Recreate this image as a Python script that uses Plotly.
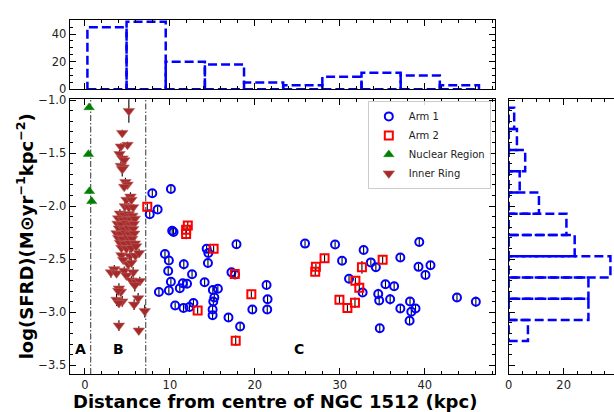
import plotly.graph_objects as go

# ---------------- data ----------------
nuc_x = [0.49, 0.41, 0.53, 0.80]
nuc_y = [-1.07, -1.51, -1.86, -1.955]
nuc_err = [0.01, 0.01, 0.02, 0.02]

ring_x = [5.17, 4.39, 5.01, 4.23, 4.07, 4.42, 4.62, 4.23, 4.54, 4.39,
          4.77, 5.01, 4.62, 5.36, 4.89, 5.47, 4.70, 5.17, 5.67,
          4.12, 4.62, 5.17, 5.59,
          3.92, 4.50, 5.01, 5.47, 5.87,
          3.84, 4.30, 4.89, 5.36, 5.75,
          4.00, 4.62, 5.17, 5.67,
          3.72, 4.23, 4.77, 5.29, 5.79,
          3.92, 4.50, 5.09, 5.56,
          4.12, 4.70, 5.29, 5.87,
          4.30, 4.89, 5.47,
          4.30, 5.29, 5.94,
          6.02, 6.37, 4.50,
          3.45, 3.06, 3.72, 4.62, 5.09, 5.47, 5.67, 4.89, 5.47, 6.06, 6.46, 5.87,
          4.00, 4.23, 3.92, 6.26, 3.72, 4.39, 4.00, 5.79, 7.04, 4.00, 6.34]
ring_y = [-1.103, -1.310, -1.422, -1.438, -1.508, -1.550, -1.568, -1.620, -1.636, -1.651,
          -1.773, -1.797, -1.818, -1.910, -1.940, -1.940, -2.001, -2.010, -2.010,
          -2.070, -2.085, -2.075, -2.090,
          -2.115, -2.130, -2.120, -2.128, -2.118,
          -2.165, -2.172, -2.160, -2.175, -2.168,
          -2.210, -2.220, -2.205, -2.215,
          -2.255, -2.262, -2.250, -2.265, -2.258,
          -2.300, -2.310, -2.298, -2.308,
          -2.345, -2.355, -2.348, -2.352,
          -2.392, -2.400, -2.394,
          -2.462, -2.470, -2.466,
          -2.378, -2.442, -2.506,
          -2.594, -2.624, -2.633, -2.609, -2.548, -2.533, -2.624, -2.654, -2.700, -2.715, -2.706, -2.745,
          -2.776, -2.807, -2.797, -2.868, -2.882, -2.898, -2.913, -2.928, -2.989, -3.126, -3.172]
ring_err = [0.11, 0.03, 0.03, 0.03, 0.04, 0.05, 0.03, 0.04, 0.03, 0.07,
            0.04, 0.03, 0.03, 0.04, 0.04, 0.03, 0.05, 0.04, 0.03,
            0.04, 0.05, 0.04, 0.03,
            0.04, 0.03, 0.05, 0.04, 0.03,
            0.04, 0.04, 0.06, 0.04, 0.03,
            0.05, 0.04, 0.03, 0.04,
            0.04, 0.03, 0.05, 0.04, 0.06,
            0.03, 0.04, 0.04, 0.05,
            0.04, 0.05, 0.03, 0.04,
            0.04, 0.03, 0.04,
            0.04, 0.05, 0.04,
            0.05, 0.04, 0.03,
            0.04, 0.05, 0.04, 0.04, 0.03, 0.04, 0.05, 0.04, 0.04, 0.03, 0.04, 0.06,
            0.05, 0.04, 0.04, 0.05, 0.06, 0.05, 0.04, 0.05, 0.06, 0.05, 0.04]

arm1_x = [7.93, 10.12, 8.56, 7.63, 10.27, 10.43, 9.42, 9.88, 9.80, 11.64,
          10.12, 9.88, 8.71, 12.61, 11.52, 12.02, 11.17, 14.09, 10.62, 11.60,
          12.30, 12.77, 14.33, 14.53, 14.48, 15.06, 15.65, 15.23, 15.11, 15.03,
          15.03, 17.84, 17.25, 17.68, 16.90, 18.27, 19.71, 21.38, 21.50, 21.46,
          25.91, 29.45, 32.81, 30.27, 33.66, 34.25, 31.09, 32.69, 34.53, 34.64,
          34.71, 39.36, 37.13, 39.27, 40.68, 40.09, 35.38, 36.40, 35.93, 37.13,
          38.27, 38.92, 38.42, 38.22, 43.80, 46.02]
arm1_y = [-1.879, -1.839, -2.031, -2.077, -2.232, -2.244, -2.451, -2.512, -2.612, -2.548,
          -2.713, -2.795, -2.809, -2.642, -2.727, -2.731, -2.773, -2.718, -2.937, -2.959,
          -2.950, -2.913, -2.402, -2.442, -2.536, -2.791, -2.779, -2.861, -2.898, -2.974,
          -3.028, -2.359, -2.624, -2.645, -3.050, -3.135, -2.974, -2.743, -2.877, -2.974,
          -2.353, -2.362, -2.414, -2.515, -2.530, -2.576, -2.685, -2.813, -2.828, -2.889,
          -3.151, -2.338, -2.484, -2.572, -2.557, -2.649, -2.736, -2.755, -2.877, -2.964,
          -2.898, -2.964, -2.995, -3.080, -2.861, -2.901]
arm1_err = [0.03, 0.04, 0.03, 0.03, 0.03, 0.03, 0.03, 0.03, 0.04, 0.05,
            0.03, 0.03, 0.04, 0.03, 0.03, 0.03, 0.03, 0.04, 0.03, 0.03,
            0.03, 0.03, 0.03, 0.03, 0.04, 0.03, 0.03, 0.03, 0.04, 0.04,
            0.04, 0.04, 0.04, 0.03, 0.04, 0.04, 0.04, 0.04, 0.04, 0.04,
            0.03, 0.03, 0.03, 0.03, 0.03, 0.04, 0.03, 0.03, 0.05, 0.04,
            0.04, 0.04, 0.03, 0.03, 0.04, 0.03, 0.04, 0.03, 0.05, 0.04,
            0.04, 0.04, 0.04, 0.04, 0.04, 0.05]

arm2_x = [7.34, 12.11, 11.91, 11.91, 15.15, 17.64, 13.27, 17.75, 19.59, 28.21,
          27.19, 27.11, 32.61, 35.05, 31.84, 32.30, 29.96, 30.90, 31.79]
arm2_y = [-2.006, -2.183, -2.223, -2.262, -2.402, -2.640, -2.983, -3.269, -2.831, -2.490,
          -2.572, -2.618, -2.576, -2.505, -2.703, -2.770, -2.882, -2.959, -2.910]
arm2_err = [0.03, 0.04, 0.03, 0.05, 0.03, 0.03, 0.03, 0.05, 0.03, 0.04,
            0.03, 0.03, 0.06, 0.04, 0.03, 0.03, 0.04, 0.04, 0.05]

# marginal histograms (counts)
top_edges = [0.29, 4.90, 9.51, 14.12, 18.73, 23.34, 27.95, 32.56, 37.17, 41.78, 46.39]
top_counts = [45, 49, 20, 18, 5, 3, 9, 12, 10, 3]
right_edges = [-3.272, -3.072, -2.872, -2.672, -2.472, -2.272, -2.072, -1.872, -1.672, -1.472, -1.272, -1.072]
right_counts = [7, 29, 29, 37, 24, 21, 11, 4, 6, 3, 2]

region_bounds = [0.68, 7.16]
region_labels = ["A", "B", "C"]
region_label_x = [-0.53, 3.92, 25.2]

# ---------------- figure ----------------
FONT = "DejaVu Sans"
W, H = 614, 412


def px_x(p):
    return p / W


def px_y(p):
    return 1 - p / H


fig = go.Figure()

err_style = dict(type="data", color="black", thickness=1.1, width=0)

fig.add_trace(go.Scatter(x=arm1_x, y=arm1_y, mode="markers", name="Arm 1",
                         error_y=dict(array=arm1_err, **err_style),
                         marker=dict(symbol="circle-open", size=8, color="#0000FF", line=dict(width=2, color="#0000FF")),
                         xaxis="x", yaxis="y"))
fig.add_trace(go.Scatter(x=arm2_x, y=arm2_y, mode="markers", name="Arm 2",
                         error_y=dict(array=arm2_err, **err_style),
                         marker=dict(symbol="square-open", size=8, color="#FF0000", line=dict(width=2, color="#FF0000")),
                         xaxis="x", yaxis="y"))
fig.add_trace(go.Scatter(x=nuc_x, y=nuc_y, mode="markers", name="Nuclear Region",
                         error_y=dict(array=nuc_err, **err_style),
                         marker=dict(symbol="triangle-up", size=9, color="#008000", line=dict(width=0.5, color="#008000")),
                         xaxis="x", yaxis="y"))
fig.add_trace(go.Scatter(x=ring_x, y=ring_y, mode="markers", name="Inner Ring",
                         error_y=dict(array=ring_err, **err_style),
                         marker=dict(symbol="triangle-down", size=10, color="#A52A2A", line=dict(width=0.6, color="#C06060")),
                         xaxis="x", yaxis="y"))


def rects(edges, counts, horizontal):
    xs, ys = [], []
    for i, c in enumerate(counts):
        lo, hi = edges[i], edges[i + 1]
        if horizontal:
            xs += [0, c, c, 0, 0, None]
            ys += [lo, lo, hi, hi, lo, None]
        else:
            xs += [lo, hi, hi, lo, lo, None]
            ys += [0, 0, c, c, 0, None]
    return xs, ys


hx, hy = rects(top_edges, top_counts, False)
fig.add_trace(go.Scatter(x=hx, y=hy, mode="lines", showlegend=False, hoverinfo="skip",
                         line=dict(color="#0000FF", width=2.5, dash="9px,4px"),
                         xaxis="x2", yaxis="y2"))
rx, ry = rects(right_edges, right_counts, True)
fig.add_trace(go.Scatter(x=rx, y=ry, mode="lines", showlegend=False, hoverinfo="skip",
                         line=dict(color="#0000FF", width=2.5, dash="9px,4px"),
                         xaxis="x3", yaxis="y3"))

tickfont = dict(family=FONT, size=11.5, color="#222")
base = dict(showline=True, linecolor="black", linewidth=1, ticks="inside", tickcolor="black",
            ticklen=6, tickwidth=1, showgrid=False, zeroline=False, tickfont=tickfont)

main_x_dom = [px_x(66), px_x(494)]
main_y_dom = [px_y(380), px_y(96)]
xr = [-1.81, 48.25]
yr = [-3.582, -0.99]

fig.update_layout(
    width=W, height=H, margin=dict(l=0, r=0, t=0, b=0),
    paper_bgcolor="white", plot_bgcolor="white",
    showlegend=True,
    xaxis=dict(domain=main_x_dom, anchor="y", range=xr, tick0=0, dtick=10, mirror="allticks",
               minor=dict(ticks="inside", ticklen=3, tickcolor="black", dtick=2), **base),
    yaxis=dict(domain=main_y_dom, anchor="x", range=yr, tick0=-1, dtick=0.5, tickformat=".1f", mirror="allticks",
               minor=dict(ticks="inside", ticklen=3, tickcolor="black", dtick=0.1), **base),
    xaxis2=dict(domain=main_x_dom, anchor="y2", range=xr, tick0=0, dtick=10, mirror="allticks",
                showticklabels=False,
                minor=dict(ticks="inside", ticklen=3, tickcolor="black", dtick=2), **base),
    yaxis2=dict(domain=[px_y(86), px_y(14)], anchor="x2", range=[0, 50.5], tick0=0, dtick=20, mirror="allticks",
                minor=dict(ticks="inside", ticklen=3, tickcolor="black", dtick=5), **base),
    xaxis3=dict(domain=[px_x(508), 1.0], anchor="y3", range=[0, 38.3], tick0=0, dtick=20, mirror="allticks",
                minor=dict(ticks="inside", ticklen=3, tickcolor="black", dtick=5), **base),
    yaxis3=dict(domain=main_y_dom, anchor="x3", range=yr, tick0=-1, dtick=0.5, mirror=False,
                showticklabels=False,
                minor=dict(ticks="inside", ticklen=3, tickcolor="black", dtick=0.1), **base),
    legend=dict(x=px_x(490), y=px_y(98), xanchor="right", yanchor="top",
                bgcolor="rgba(255,255,255,0.85)", bordercolor="#cccccc", borderwidth=1,
                font=dict(family=FONT, size=10, color="#222"), tracegroupgap=0),
)

for v in region_bounds:
    fig.add_shape(type="line", xref="x", yref="y domain", x0=v, x1=v, y0=0, y1=1, layer="below",
                  line=dict(color="#333333", width=1, dash="6px,2px,1.5px,2px"))

for lab, lx in zip(region_labels, region_label_x):
    fig.add_annotation(x=lx, y=-3.345, xref="x", yref="y", text="<b>%s</b>" % lab, showarrow=False,
                       xanchor="center", yanchor="middle",
                       font=dict(family=FONT, size=14, color="black"))

fig.add_annotation(x=px_x(273), y=px_y(395), xref="paper", yref="paper",
                   xanchor="center", yanchor="top", yshift=0,
                   text="<b>Distance from centre of NGC 1512 (kpc)</b>", showarrow=False,
                   font=dict(family=FONT, size=18, color="black"))
fig.add_annotation(x=px_x(22), y=px_y(238), xref="paper", yref="paper", textangle=-90,
                   xanchor="center", yanchor="middle",
                   text="<b>log(SFRD)(M⊙yr<sup>−1</sup>kpc<sup>−2</sup>)</b>", showarrow=False,
                   font=dict(family=FONT, size=18, color="black"))

fig.write_html("out.html")
